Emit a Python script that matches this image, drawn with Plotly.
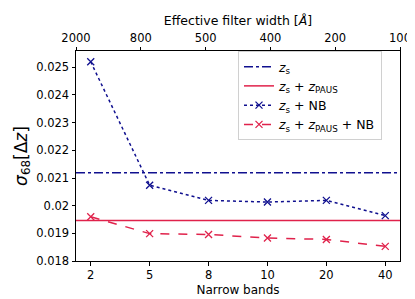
import plotly.graph_objects as go

# ---- data ----
narrow_bands = ["2", "5", "8", "10", "20", "40"]
filter_width = ["2000", "800", "500", "400", "200", "100"]
zs_value = 0.02119
zs_paus_value = 0.019465
zs_nb = [0.02520, 0.02074, 0.02019, 0.02013, 0.02019, 0.01964]
zs_paus_nb = [0.01960, 0.01899, 0.01896, 0.01883, 0.01878, 0.01853]
yticks = [0.018, 0.019, 0.020, 0.021, 0.022, 0.023, 0.024, 0.025]
yticklabels = ["0.018", "0.019", "0.02", "0.021", "0.022", "0.023", "0.024", "0.025"]

BLUE = "#10108f"
RED = "#e0224b"
FONT = "DejaVu Sans"

xi = list(range(len(narrow_bands)))
pad = 0.25
xr = [xi[0] - pad, xi[-1] + pad]

fig = go.Figure()
fig.add_trace(go.Scatter(
    x=xr, y=[zs_value, zs_value], mode="lines",
    line=dict(color=BLUE, width=1.5, dash="dashdot"),
    name="<i>z</i><sub>s</sub>"))
fig.add_trace(go.Scatter(
    x=xr, y=[zs_paus_value, zs_paus_value], mode="lines",
    line=dict(color=RED, width=1.5),
    name="<i>z</i><sub>s</sub> + <i>z</i><sub>PAUS</sub>"))
fig.add_trace(go.Scatter(
    x=xi, y=zs_nb, mode="lines+markers",
    line=dict(color=BLUE, width=1.5, dash="dot"),
    marker=dict(symbol="x-thin", size=7, line=dict(color=BLUE, width=1.3)),
    name="<i>z</i><sub>s</sub> + NB"))
fig.add_trace(go.Scatter(
    x=xi, y=zs_paus_nb, mode="lines+markers",
    line=dict(color=RED, width=1.5, dash="dash"),
    marker=dict(symbol="x-thin", size=7, line=dict(color=RED, width=1.3)),
    name="<i>z</i><sub>s</sub> + <i>z</i><sub>PAUS</sub> + NB"))
# invisible trace to activate top axis
fig.add_trace(go.Scatter(x=[xi[0], xi[-1]], y=[zs_value, zs_value], xaxis="x2",
                         mode="lines", line=dict(width=0), showlegend=False,
                         hoverinfo="skip", opacity=0))

axis_common = dict(showgrid=False, zeroline=False, showline=True, linecolor="black",
                   linewidth=1, ticks="outside", ticklen=3.5, tickwidth=1,
                   tickcolor="black", tickfont=dict(size=11.5, color="black"))

fig.update_layout(
    width=415, height=299,
    margin=dict(l=68, r=20, t=42, b=45),
    plot_bgcolor="white", paper_bgcolor="white",
    font=dict(family=FONT, size=12, color="black"),
    xaxis=dict(range=xr, tickvals=xi, ticktext=narrow_bands, mirror=False,
               title=dict(text="Narrow bands", font=dict(size=12), standoff=4),
               **axis_common),
    xaxis2=dict(range=[xi[0], xi[-1]], tickvals=xi, ticktext=filter_width,
                overlaying="x", side="top", anchor="y",
                title=dict(text="Effective filter width [<i>Å</i>]", font=dict(size=12.5), standoff=2),
                **axis_common),
    yaxis=dict(range=[0.018, 0.02559], tickvals=yticks, ticktext=yticklabels,
               mirror=True,
               title=dict(text="<i>σ</i><sub>68</sub>[Δ<i>z</i>]", font=dict(size=17), standoff=4),
               **axis_common),
    legend=dict(x=0.5, y=1.0, xanchor="left", yanchor="top",
                bgcolor="rgba(255,255,255,0.8)", bordercolor="#d0d0d0", borderwidth=1,
                font=dict(size=12.5), tracegroupgap=0, itemwidth=30),
    showlegend=True,
)

fig.write_html("out.html")
